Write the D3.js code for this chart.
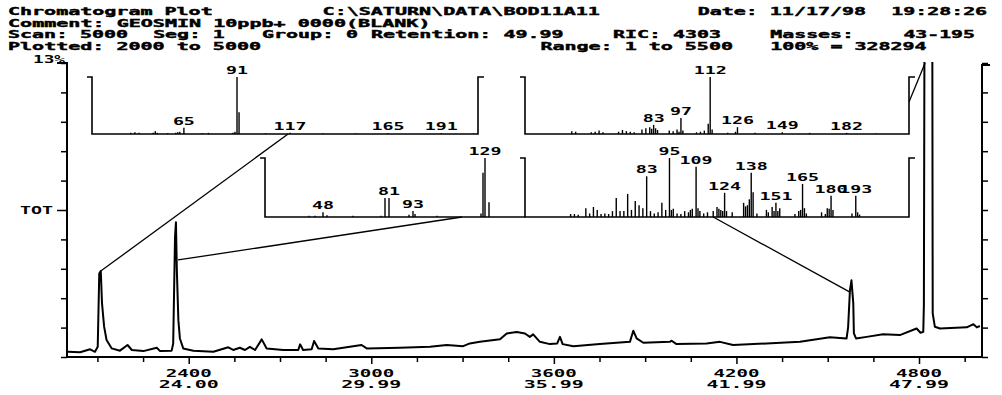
<!DOCTYPE html>
<html>
<head>
<meta charset="utf-8">
<script src="https://cdn.jsdelivr.net/npm/d3@7"></script>
<style>
body{margin:0;background:#fff;}
text{font-family:"DejaVu Sans Mono",monospace;font-weight:bold;fill:#000;}
</style>
</head>
<body>
<div id="chart"></div>
<script>
// total ion chromatogram, scan number vs % of 100% (= 328294)
var scans = [2003,2043,2076,2092,2101,2106,2111,2115,2122,2130,2147,2174,2199,2213,2251,2295,2306,2344,2349,2355,
  2358,2361,2366,2371,2382,2415,2481,2530,2546,2568,2585,2601,2618,2640,2656,2711,2760,2766,2776,2804,
  2812,2826,2875,2968,2985,3094,3193,3248,3302,3324,3357,3423,3445,3478,3505,3521,3532,3554,3587,3611,
  3620,3629,3664,3751,3850,3861,3872,3894,3981,3987,4003,4102,4146,4189,4299,4409,4507,4562,4567,4573,
  4578,4584,4586,4593,4628,4682,4737,4792,4805,4814,4816,4822,4841,4845,4852,4869,4957,4979,4990,5000];
var tic = [0.23,0.21,0.34,0.23,0.45,3.69,3.80,2.38,1.34,0.75,0.38,0.28,0.53,0.31,0.26,0.41,0.26,0.28,0.60,5.30,
  5.96,3.83,1.63,0.82,0.38,0.28,0.23,0.43,0.31,0.41,0.31,0.45,0.31,0.78,0.38,0.31,0.31,0.56,0.31,0.34,
  0.71,0.38,0.34,0.53,0.38,0.41,0.45,0.53,0.48,0.60,0.67,0.78,1.04,1.11,1.04,0.89,1.00,0.67,0.57,0.60,
  0.89,0.57,0.48,0.57,0.67,1.16,0.82,0.63,0.67,0.72,0.57,0.60,0.67,0.53,0.60,0.67,0.87,0.82,1.31,2.95,
  3.39,2.37,1.04,0.82,0.89,1.01,0.97,1.26,1.07,1.11,2.29,40,40,1.93,1.34,1.26,1.31,1.45,1.31,1.37];

var scanTicks = [2100,2250,2400,2550,2700,2850,3000,3150,3300,3450,3600,3750,3900,4050,4200,4350,4500,4650,4800,4950];
var scanLabels = [2400,3000,3600,4200,4800];
var timeLabels = ["24.00","29.99","35.99","41.99","47.99"];
var yTicks = [0,1.3,2.6,3.9,5.2,6.5,7.8,9.1,10.4,11.7,13];

// mass spectra shown in the insets (m/z, % of base peak)
var spec1Mass = [39,41,43,50,51,52,57,61,62,63,65,74,77,89,90,91,92,105,117,133,149,165,191,207];
var spec1Int  = [2,3,2,2,5,2,1.5,2,3,4,11,1.5,2,2,4,100,38,1.5,2,1,1,1.5,1.5,1];
var spec1Labels = [65,91,117,165,191];

var spec2Mass = [41,43,51,53,55,57,65,67,69,71,73,77,79,81,82,83,84,85,91,93,95,96,97,98,105,107,109,111,112,113,121,125,126,135,149,163,182,197];
var spec2Int  = [5,4,3,4,6,3,4,7,5,4,3,8,10,12,9,16,10,7,6,5,8,4,28,6,3,4,6,18,100,8,2,4,12,2,3,2,2,1];
var spec2Labels = [83,97,112,126,149,182];

var spec3Mass = [41,44,48,50,63,77,79,81,91,93,94,105,127,128,129,131];
var spec3Int  = [2,2,8,3,2,2,32,32,4,10,5,2,6,75,100,25];
var spec3Labels = [48,81,93,129];

var spec4Mass = [43,45,47,51,53,55,57,59,61,63,65,67,69,71,73,75,77,79,81,83,85,87,89,91,93,95,96,97,99,101,
  103,105,106,107,109,110,111,113,115,118,120,121,122,123,124,125,128,134,135,136,137,138,139,141,146,147,149,150,151,152,
  153,161,163,164,165,166,167,175,177,178,179,180,181,191,193,194,195];
var spec4Int  = [5,5,4,15,6,17,12,5,6,5,10,32,10,10,39,12,27,20,15,69,10,6,8,24,12,100,12,14,6,5,
  10,8,12,14,85,15,10,6,8,10,17,14,12,10,41,10,8,24,18,20,30,75,42,6,12,8,17,10,24,10,
  15,5,10,12,56,15,6,8,5,15,14,36,12,6,36,8,4];
var spec4Labels = [83,95,109,124,138,151,165,180,193];

// which chromatogram point is linked to which inset
var linkScan  = [2111,2365,4573,4820];
var linkValue = [3.8,4.29,2.87,13];
var linkInset = [0,2,3,1];
var linkMass  = [116,117.5,118,214];
var linkLevel = [0,0,0,56];

// header text lines (column, text)
var headerLines = [
  [[0, "Chromatogram Plot"], [26, "C:\\SATURN\\DATA\\BOD11A11"], [57, "Date: 11/17/98"], [73, "19:28:26"]],
  [[0, "Comment: GEOSMIN 10ppb+ 0000(BLANK)"]],
  [[0, "Scan: 5000"], [12, "Seg: 1"], [21, "Group: 0"], [30, "Retention: 49.99"], [50, "RIC: 4303"], [63, "Masses:"], [74, "43-195"]],
  [[0, "Plotted: 2000 to 5000"], [44, "Range: 1 to 5500"], [63, "100% = 328294"]]
];

var W = 1002, H = 395;
var svg = d3.select('#chart').append('svg')
  .attr('width', W).attr('height', H);

var pLeft = 67, pRight = 982, pTop = 63, pBottom = 357;
var x = d3.scaleLinear().domain([2000, 5007]).range([pLeft, pRight]);
var y = d3.scaleLinear().domain([0, 13]).range([pBottom, pTop]);

// header block, fixed pitch like the instrument screen
var pitch = 12.1;
headerLines.forEach(function(row, r){
  svg.selectAll('.hdr' + r).data(row).enter().append('text')
    .attr('class', 'hdr' + r)
    .attr('x', function(d){ return 8 + d[0] * pitch; })
    .attr('y', 15 + r * 11.5)
    .attr('textLength', function(d){ return d[1].length * pitch - 1; })
    .attr('lengthAdjust', 'spacingAndGlyphs')
    .style('font-size', '9.8px')
    .style('stroke', '#000').style('stroke-width', 0.4)
    .text(function(d){ return d[1]; });
});

// frame / axes
var frame = svg.append('g').attr('stroke', '#000').attr('fill', 'none').attr('stroke-width', 2);
frame.append('path').attr('d', 'M' + (pLeft - 10) + ',' + pTop + 'H' + pLeft + 'V' + (pBottom + 1));
frame.append('path').attr('d', 'M' + (pRight + 8) + ',' + (pTop + 2) + 'H' + pRight + 'V' + (pBottom + 1));
frame.append('path').attr('d', 'M' + (pLeft - 1) + ',' + pBottom + 'H' + pRight);

var yAxisL = d3.axisLeft(y).tickValues(yTicks).tickSize(6).tickSizeOuter(0).tickFormat('');
var gl = svg.append('g').attr('transform', 'translate(' + pLeft + ',0)').call(yAxisL);
var yAxisR = d3.axisRight(y).tickValues(yTicks).tickSize(6).tickSizeOuter(0).tickFormat('');
var gr = svg.append('g').attr('transform', 'translate(' + pRight + ',0)').call(yAxisR);
var xAxis = d3.axisBottom(x).tickValues(scanTicks).tickSize(5).tickSizeOuter(0).tickFormat('');
var gb = svg.append('g').attr('transform', 'translate(0,' + pBottom + ')').call(xAxis);
[gl, gr, gb].forEach(function(g){
  g.select('.domain').remove();
  g.selectAll('.tick line').attr('stroke', '#000').attr('stroke-width', 1.5);
});
gb.selectAll('.tick line').attr('y2', function(d){ return scanLabels.indexOf(d) >= 0 ? 7 : 5; });
gl.selectAll('.tick line').attr('x2', function(d){ return d === 6.5 ? -10 : -6; });

svg.append('text').attr('x', pLeft - 14).attr('y', y(6.5) + 4)
  .attr('text-anchor', 'end').attr('textLength', 33).attr('lengthAdjust', 'spacingAndGlyphs')
  .style('font-size', '10.5px').text('TOT');
svg.append('text').attr('x', 33).attr('y', pTop)
  .attr('textLength', 32).attr('lengthAdjust', 'spacingAndGlyphs')
  .style('font-size', '10px').text('13%');

svg.selectAll('.xl').data(scanLabels).enter().append('text')
  .attr('class', 'xl')
  .attr('x', function(d){ return x(d); }).attr('y', pBottom + 20)
  .attr('text-anchor', 'middle').attr('textLength', 46).attr('lengthAdjust', 'spacingAndGlyphs')
  .style('font-size', '10.5px').text(function(d){ return d; });
svg.selectAll('.tl').data(timeLabels).enter().append('text')
  .attr('class', 'tl')
  .attr('x', function(d, i){ return x(scanLabels[i]); }).attr('y', pBottom + 31)
  .attr('text-anchor', 'middle').attr('textLength', 60).attr('lengthAdjust', 'spacingAndGlyphs')
  .style('font-size', '10.5px').text(function(d){ return d; });

// chromatogram trace
svg.append('clipPath').attr('id', 'plotclip').append('rect')
  .attr('x', pLeft).attr('y', pTop - 1).attr('width', pRight - pLeft).attr('height', pBottom - pTop + 1);
var trace = scans.map(function(s, i){ return [s, tic[i]]; });
var line = d3.line().x(function(d){ return x(d[0]); }).y(function(d){ return y(d[1]); });
svg.append('path').datum(trace)
  .attr('clip-path', 'url(#plotclip)')
  .attr('d', line)
  .attr('fill', 'none').attr('stroke', '#000').attr('stroke-width', 2)
  .attr('stroke-linejoin', 'round');

// insets
var insets = [
  {mass: spec1Mass, inten: spec1Int, labels: spec1Labels, domain: [20, 209], x0: 92, x1: 478, top: 77, base: 134, rightBracket: true},
  {mass: spec2Mass, inten: spec2Int, labels: spec2Labels, domain: [17, 214], x0: 525, x1: 909, top: 77, base: 134, rightBracket: true},
  {mass: spec3Mass, inten: spec3Int, labels: spec3Labels, domain: [19, 149], x0: 265, x1: 525, top: 158, base: 217, rightBracket: false},
  {mass: spec4Mass, inten: spec4Int, labels: spec4Labels, domain: [19, 221], x0: 525, x1: 909, top: 158, base: 217, rightBracket: true}
];
insets.forEach(function(ins){
  ins.xs = d3.scaleLinear().domain(ins.domain).range([ins.x0, ins.x1]);
  ins.ys = d3.scaleLinear().domain([0, 100]).range([ins.base, ins.top]);
});

// connecting lines
var links = linkScan.map(function(s, i){
  var ins = insets[linkInset[i]];
  return [[x(s), y(linkValue[i])], [ins.xs(linkMass[i]), ins.ys(linkLevel[i])]];
});
svg.selectAll('.link').data(links).enter().append('line')
  .attr('class', 'link')
  .attr('x1', function(d){ return d[0][0]; }).attr('y1', function(d){ return d[0][1]; })
  .attr('x2', function(d){ return d[1][0]; }).attr('y2', function(d){ return d[1][1]; })
  .attr('stroke', '#000').attr('stroke-width', 1.3);

insets.forEach(function(ins){
  var g = svg.append('g');
  var d = 'M' + (ins.x0 - 5) + ',' + ins.top + 'H' + ins.x0 + 'V' + ins.base + 'H' + ins.x1;
  if (ins.rightBracket) d += 'V' + ins.top + 'H' + (ins.x1 + 6);
  g.append('path').attr('d', d).attr('fill', 'none').attr('stroke', '#000').attr('stroke-width', 1.6);

  var pts = ins.mass.map(function(m, i){ return [m, ins.inten[i]]; });
  g.selectAll('.stick').data(pts).enter().append('line')
    .attr('class', 'stick')
    .attr('x1', function(p){ return ins.xs(p[0]); }).attr('x2', function(p){ return ins.xs(p[0]); })
    .attr('y1', ins.base).attr('y2', function(p){ return ins.ys(p[1]); })
    .attr('stroke', '#000').attr('stroke-width', 1.4);

  g.selectAll('.plab').data(ins.labels).enter().append('text')
    .attr('class', 'plab')
    .attr('x', function(m){ return ins.xs(m); })
    .attr('y', function(m){ return ins.ys(ins.inten[ins.mass.indexOf(m)]) - 3; })
    .attr('text-anchor', 'middle')
    .attr('textLength', function(m){ return String(m).length * 11; })
    .attr('lengthAdjust', 'spacingAndGlyphs')
    .style('font-size', '10px')
    .text(function(m){ return m; });
});
</script>
</body>
</html>
